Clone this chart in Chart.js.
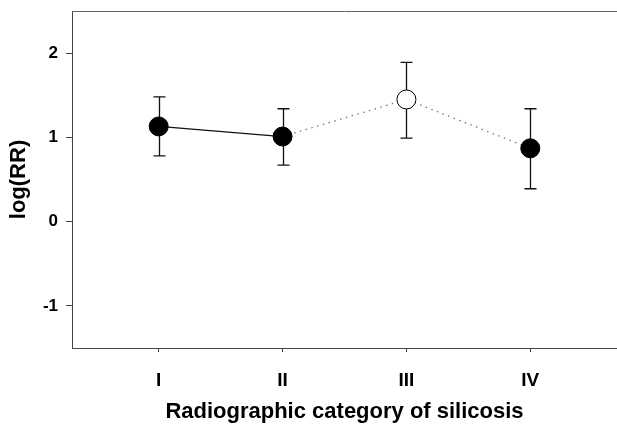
<!DOCTYPE html>
<html>
<head>
<meta charset="utf-8">
<script src="https://cdn.jsdelivr.net/npm/chart.js@4/dist/chart.umd.min.js"></script>
<style>
  html, body { margin: 0; padding: 0; background: #fff; }
  #wrap { width: 617px; height: 426px; }
</style>
</head>
<body>
<div id="wrap"><canvas id="chart"></canvas></div>
<script>
const categories = ["I", "II", "III", "IV"];
const xPositions = [1, 2, 3, 4];
const logRR = [1.13, 1.01, 1.45, 0.87];
const lowerCI = [0.78, 0.67, 0.99, 0.39];
const upperCI = [1.48, 1.34, 1.89, 1.34];
const filled = [true, true, false, true];
const yTicks = [-1, 0, 1, 2];

const points = xPositions.map((x, i) => ({ x: x, y: logRR[i] }));

// error bars + top frame line, drawn under the markers
const errorBars = {
    id: "errorBars",
    beforeDatasetsDraw(chart) {
        const ctx = chart.ctx;
        const xs = chart.scales.x, ys = chart.scales.y;
        const area = chart.chartArea;

        ctx.save();
        ctx.strokeStyle = "#666";
        ctx.lineWidth = 1;
        ctx.beginPath();
        ctx.moveTo(area.left, area.top + 0.5);
        ctx.lineTo(area.right, area.top + 0.5);
        ctx.stroke();

        ctx.strokeStyle = "#111";
        ctx.lineWidth = 1.3;
        xPositions.forEach((x, i) => {
            const px = Math.round(xs.getPixelForValue(x)) + 0.5;
            const top = ys.getPixelForValue(upperCI[i]);
            const bot = ys.getPixelForValue(lowerCI[i]);
            ctx.beginPath();
            ctx.moveTo(px, top);
            ctx.lineTo(px, bot);
            ctx.moveTo(px - 6, top);
            ctx.lineTo(px + 6, top);
            ctx.moveTo(px - 6, bot);
            ctx.lineTo(px + 6, bot);
            ctx.stroke();
        });
        ctx.restore();
    }
};

const fontFamily = "'Liberation Sans', Arial, sans-serif";

new Chart(document.getElementById("chart"), {
    type: "scatter",
    data: {
        datasets: [{
            data: points,
            showLine: true,
            borderColor: "#111",
            borderWidth: 1.3,
            segment: {
                borderDash: c => c.p0DataIndex >= 1 ? [1.5, 4.5] : undefined,
                borderColor: c => c.p0DataIndex >= 1 ? "#777" : "#111"
            },
            pointRadius: 9.5,
            pointHoverRadius: 9.5,
            pointBorderWidth: 1,
            pointBorderColor: "#000",
            pointBackgroundColor: filled.map(f => f ? "#000" : "#fff")
        }]
    },
    options: {
        responsive: true,
        maintainAspectRatio: false,
        animation: false,
        events: [],
        layout: { autoPadding: false, padding: { top: 11, right: 0, left: 0, bottom: 0 } },
        plugins: {
            legend: { display: false },
            tooltip: { enabled: false }
        },
        scales: {
            x: {
                type: "linear",
                min: 0.3,
                max: 4.7,
                afterBuildTicks: s => { s.ticks = xPositions.map(v => ({ value: v })); },
                afterFit: s => { s.height = 78; s.paddingLeft = 0; s.paddingRight = 0; },
                grid: { drawOnChartArea: false, tickLength: 4, color: "#444" },
                border: { color: "#444", width: 1 },
                ticks: {
                    padding: 17,
                    color: "#000",
                    font: { family: fontFamily, size: 19, weight: "bold" },
                    callback: v => categories[xPositions.indexOf(v)] || ""
                },
                title: {
                    display: true,
                    text: "Radiographic category of silicosis",
                    color: "#000",
                    font: { family: fontFamily, size: 22, weight: "bold" },
                    padding: { top: 0, bottom: 1 }
                }
            },
            y: {
                min: -1.5,
                max: 2.5,
                afterBuildTicks: s => { s.ticks = yTicks.map(v => ({ value: v })); },
                afterFit: s => { s.width = 72; s.paddingTop = 0; s.paddingBottom = 0; },
                grid: { drawOnChartArea: false, tickLength: 6, color: "#444" },
                border: { color: "#444", width: 1 },
                ticks: {
                    padding: 8,
                    color: "#000",
                    font: { family: fontFamily, size: 17, weight: "bold" }
                },
                title: {
                    display: true,
                    text: "log(RR)",
                    color: "#000",
                    font: { family: fontFamily, size: 22, weight: "bold" },
                    padding: { top: 6, bottom: 0 }
                }
            }
        }
    },
    plugins: [errorBars]
});
</script>
</body>
</html>
